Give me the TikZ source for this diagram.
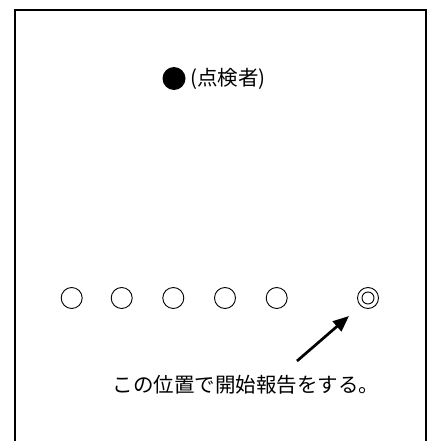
\documentclass[tikz,border=0pt]{standalone}
\usepackage{fontspec}
\newfontfamily\jpfont{Noto Sans CJK JP}
\usetikzlibrary{arrows.meta}
\begin{document}
\begin{tikzpicture}[x=1pt,y=-1pt,
  seat/.style={circle,draw,line width=0.9pt,minimum size=21pt,inner sep=0pt},
  lbl/.style={font=\jpfont\fontsize{20.5pt}{24pt}\selectfont,inner sep=0pt}]
\useasboundingbox (0,0) rectangle (430,441);
\draw[line width=2pt] (14.5,441) -- (14.5,10) -- (426,10) -- (426,441);
\node[circle,fill=black,minimum size=23pt,inner sep=0pt] (insp) at (174,78.5) {};
\node[lbl,anchor=west] (insplbl) at (190,79) {(点検者)};
\node[seat] (s1) at (71.7,298) {};
\node[seat] (s2) at (121.7,298) {};
\node[seat] (s3) at (173.3,298) {};
\node[seat] (s4) at (225,298) {};
\node[seat] (s5) at (276.7,298) {};
\node[seat] (s6) at (368,298) {};
\node[circle,draw,line width=0.9pt,minimum size=12pt,inner sep=0pt] (s6in) at (s6) {};
\coordinate (atail) at (297,361);
\coordinate (ahead) at (349,316);
\draw[line width=2.7pt,-{Triangle[length=16pt,width=13pt]}] (atail) -- (ahead);
\node[lbl] (note) at (246,385) {この位置で開始報告をする。};
\end{tikzpicture}
\end{document}
